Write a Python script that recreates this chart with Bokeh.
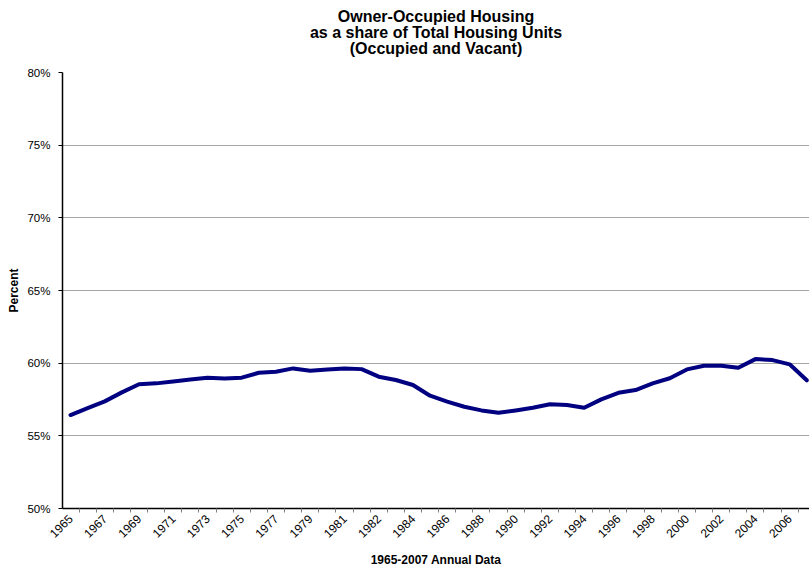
from bokeh.plotting import figure
from bokeh.models import FixedTicker, Range1d, Title
from bokeh.embed import file_html
from bokeh.resources import INLINE

# ---- data ----
categories = [str(y) for y in range(1965, 1982)] + ["1981"] + [str(y) for y in range(1982, 2008)]
ownership_share = [
    56.43, 56.90, 57.37, 57.99, 58.55, 58.61, 58.74, 58.87, 59.00, 58.95,
    59.00, 59.34, 59.41, 59.64, 59.48, 59.56, 59.64, 59.59, 59.07, 58.84,
    58.50, 57.76, 57.35, 57.00, 56.75, 56.59, 56.75, 56.93, 57.17, 57.12,
    56.93, 57.51, 57.96, 58.15, 58.61, 58.96, 59.57, 59.82, 59.82, 59.68,
    60.28, 60.21, 59.92, 58.82,
]
y_ticks = [50, 55, 60, 65, 70, 75, 80]
y_tick_labels = ["50%", "55%", "60%", "65%", "70%", "75%", "80%"]
title_lines = ["Owner-Occupied Housing", "as a share of Total Housing Units", "(Occupied and Vacant)"]

x_idx = list(range(len(categories)))
label_idx = x_idx[0:43:2]

FONT = "Liberation Sans"

p = figure(width=809, height=569, output_backend="svg", toolbar_location=None,
           x_range=Range1d(-0.467, 43.16), y_range=Range1d(50, 80),
           min_border_left=62, min_border_right=0, min_border_top=72, min_border_bottom=10)
p.title = None
# spacer closest to the plot, then the title lines from bottom to top
p.add_layout(Title(text=" ", text_font=FONT, text_font_size="10px", standoff=4), "above")
for txt in reversed(title_lines):
    p.add_layout(Title(text=txt, align="center", text_font=FONT, text_font_size="16px",
                       text_font_style="bold", text_color="black", standoff=-3), "above")
p.outline_line_color = None
p.background_fill_color = "white"
p.border_fill_color = "white"

p.line(x_idx, ownership_share, line_color="#000080", line_width=4,
       line_join="round", line_cap="round")

# x axis
xa = p.xaxis[0]
xa.ticker = FixedTicker(ticks=label_idx, minor_ticks=[i - 0.5 for i in x_idx] + [43.5])
xa.major_label_overrides = {i: categories[i] for i in label_idx}
xa.major_label_orientation = 0.785398
xa.major_tick_out = 0
xa.major_tick_in = 0
xa.minor_tick_out = 4
xa.minor_tick_in = 0
xa.minor_tick_line_color = "#808080"
xa.axis_line_color = "black"
xa.axis_line_width = 1.5
xa.major_label_text_font = FONT
xa.major_label_text_font_size = "12px"
xa.major_label_text_color = "black"
xa.major_label_standoff = 4
xa.axis_label = "1965-2007 Annual Data"
xa.axis_label_text_font = FONT
xa.axis_label_text_font_size = "12px"
xa.axis_label_text_font_style = "bold"
xa.axis_label_text_color = "black"
xa.axis_label_standoff = 8

# y axis
ya = p.yaxis[0]
ya.ticker = FixedTicker(ticks=y_ticks, minor_ticks=[])
ya.major_label_overrides = dict(zip(y_ticks, y_tick_labels))
ya.major_tick_out = 4
ya.major_tick_in = 0
ya.axis_line_color = "black"
ya.axis_line_width = 1.5
ya.major_label_text_font = FONT
ya.major_label_text_font_size = "11.5px"
ya.major_label_text_color = "black"
ya.major_label_standoff = 8
ya.axis_label = "Percent"
ya.axis_label_text_font = FONT
ya.axis_label_text_font_size = "12px"
ya.axis_label_text_font_style = "bold"
ya.axis_label_text_color = "black"
ya.axis_label_standoff = 3

p.xgrid.grid_line_color = None
p.ygrid.grid_line_color = "#a6a6a6"
p.ygrid.grid_line_width = 1

open("out.html", "w").write(file_html(p, INLINE))
